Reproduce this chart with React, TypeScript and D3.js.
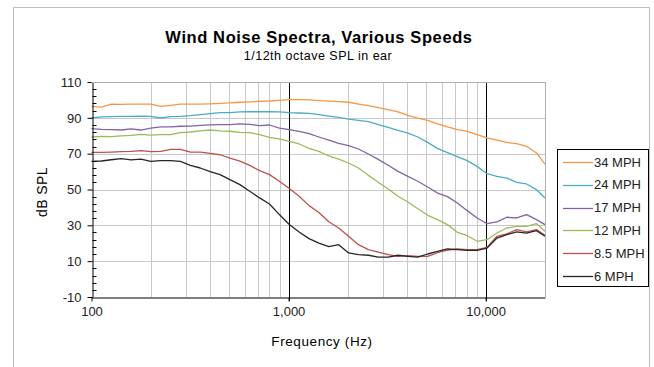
import { useEffect, useRef } from "react";
import * as d3 from "d3";

// 1/6-octave sample points, 100 Hz .. 20 kHz
const freqs = [
  100, 112.2, 126, 141.4, 158.7, 178.2, 200, 224.5, 252, 282.8, 317.5, 356.4,
  400, 449, 504, 566, 635, 713, 800, 898, 1008, 1131, 1270, 1425, 1600, 1796,
  2016, 2263, 2540, 2851, 3200, 3592, 4032, 4525, 5080, 5702, 6400, 7184, 8063,
  9051, 10159, 11404, 12800, 14368, 16127, 18102, 20000,
];

const mph34 = [
  96.4, 96.0, 97.6, 97.5, 97.6, 97.6, 97.6, 96.4, 97.0, 97.6, 97.6, 97.6, 97.8,
  98.1, 98.3, 98.7, 98.9, 99.2, 99.4, 99.8, 100.2, 100.2, 100.0, 99.6, 99.3,
  99.0, 98.7, 97.7, 96.8, 95.7, 94.6, 93.3, 91.4, 89.9, 88.6, 86.6, 84.9, 83.4,
  82.5, 80.6, 78.8, 77.6, 76.3, 75.6, 74.1, 70.4, 64.2,
];
const mph24 = [
  89.9, 90.5, 90.7, 90.8, 90.8, 91.0, 90.8, 89.9, 90.7, 90.8, 91.2, 91.8, 92.4,
  92.9, 92.9, 93.3, 93.4, 93.4, 93.4, 93.3, 92.9, 92.7, 92.5, 91.8, 91.0, 90.3,
  89.3, 88.6, 87.9, 86.2, 84.7, 83.0, 81.5, 79.3, 76.3, 72.8, 70.6, 68.3, 66.1,
  62.9, 58.8, 57.3, 56.4, 54.0, 53.1, 49.9, 45.3,
];
const mph17 = [
  84.0, 83.6, 83.4, 83.2, 83.8, 83.2, 84.3, 84.9, 84.9, 85.3, 85.4, 85.8, 86.1,
  86.2, 86.2, 86.6, 86.4, 85.6, 86.0, 84.3, 83.4, 82.5, 81.2, 79.3, 77.5, 75.8,
  74.5, 72.6, 69.8, 66.8, 63.5, 60.1, 57.3, 54.6, 51.4, 48.0, 46.0, 42.5, 38.2,
  34.1, 30.9, 31.9, 34.5, 34.1, 36.0, 33.2, 30.4,
];
const mph12 = [
  79.3, 79.7, 79.5, 79.9, 80.2, 80.8, 80.4, 80.6, 80.6, 81.7, 82.1, 82.7, 83.2,
  82.7, 82.5, 81.9, 81.7, 80.6, 79.1, 78.2, 76.9, 75.4, 73.0, 71.3, 68.7, 67.0,
  64.8, 62.0, 57.9, 54.0, 50.3, 46.2, 43.0, 39.3, 35.6, 33.2, 30.4, 26.1, 24.2,
  21.1, 22.0, 25.7, 28.5, 29.4, 29.4, 30.9, 26.7,
];
const mph85 = [
  70.7, 70.7, 70.9, 71.1, 71.3, 71.7, 71.1, 71.3, 72.4, 72.4, 70.9, 70.9, 70.2,
  69.4, 67.5, 65.8, 63.5, 60.5, 58.3, 54.6, 50.6, 46.2, 41.0, 37.2, 32.0, 28.5,
  23.9, 19.2, 16.4, 15.1, 13.6, 12.7, 13.1, 12.7, 12.7, 14.7, 16.2, 16.8, 16.4,
  16.4, 17.7, 23.9, 25.2, 27.6, 26.3, 27.6, 24.4,
];
const mph6 = [
  65.7, 65.9, 66.6, 67.2, 66.5, 67.0, 65.7, 66.1, 66.1, 65.7, 63.5, 62.0, 60.0,
  58.3, 55.5, 52.7, 49.0, 45.3, 41.9, 36.0, 30.5, 26.3, 22.6, 20.1, 18.1, 19.2,
  14.6, 13.6, 13.3, 12.3, 12.3, 13.3, 12.7, 12.3, 14.0, 15.5, 16.8, 16.4, 16.0,
  16.0, 17.3, 22.9, 24.8, 26.3, 25.7, 27.0, 23.9,
];

const seriesNames = ["34 MPH", "24 MPH", "17 MPH", "12 MPH", "8.5 MPH", "6 MPH"];
const seriesValues = [mph34, mph24, mph17, mph12, mph85, mph6];
const seriesColors = ["#f79646", "#4bacc6", "#8064a2", "#9bbb59", "#c0504d", "#262626"];

const yTicks = [-10, 10, 30, 50, 70, 90, 110];
const xTicks = [100, 1000, 10000];
const xMinorGrid = [200, 300, 400, 500, 600, 700, 800, 900, 2000, 3000, 4000, 5000, 6000, 7000, 8000, 9000];

const FONT = "'Liberation Sans', Arial, sans-serif";

export default function App() {
  const svgRef = useRef<SVGSVGElement>(null);

  useEffect(() => {
    if (!svgRef.current) return;
    const svg = d3.select(svgRef.current);
    svg.selectAll("*").remove();

    const left = 91.5;
    const right = 545;
    const top = 82;
    const bottom = 297;

    const x = d3.scaleLog().domain([100, 20000]).range([left, right]);
    const y = d3.scaleLinear().domain([-10, 110]).range([bottom, top]);
    const px = (v: number) => Math.round(v) + 0.5;

    // chart frame
    svg.append("rect")
      .attr("x", 13.5).attr("y", 7.5).attr("width", 636).attr("height", 400)
      .attr("fill", "white").attr("stroke", "#bfbfbf");

    // titles
    svg.append("text")
      .attr("x", 319).attr("y", 43)
      .attr("text-anchor", "middle")
      .style("font-family", FONT).style("font-size", "16.5px").style("font-weight", "bold")
      .style("letter-spacing", "0.6px")
      .attr("fill", "#000")
      .text("Wind Noise Spectra, Various Speeds");
    svg.append("text")
      .attr("x", 318).attr("y", 60)
      .attr("text-anchor", "middle")
      .style("font-family", FONT).style("font-size", "12.5px")
      .style("letter-spacing", "0.5px")
      .attr("fill", "#000")
      .text("1/12th octave SPL in ear");

    const g = svg.append("g");

    // horizontal grid
    g.selectAll(".hgrid")
      .data(yTicks.filter((t) => t > -10))
      .enter()
      .append("line")
      .attr("x1", left).attr("x2", right)
      .attr("y1", (d) => px(y(d))).attr("y2", (d) => px(y(d)))
      .attr("stroke", "#c8c8c8");

    // vertical minor grid
    g.selectAll(".vgrid")
      .data([...xMinorGrid, 20000])
      .enter()
      .append("line")
      .attr("x1", (d) => px(x(d))).attr("x2", (d) => px(x(d)))
      .attr("y1", top).attr("y2", bottom)
      .attr("stroke", "#c8c8c8");

    // decade lines
    g.selectAll(".vmajor")
      .data([1000, 10000])
      .enter()
      .append("line")
      .attr("x1", (d) => px(x(d))).attr("x2", (d) => px(x(d)))
      .attr("y1", top).attr("y2", bottom + 4)
      .attr("stroke", "#000");

    // series
    const line = d3.line<number>()
      .x((_, i) => x(freqs[i]))
      .y((d) => y(d));

    seriesValues.forEach((vals, i) => {
      g.append("path")
        .datum(vals)
        .attr("d", line)
        .attr("fill", "none")
        .attr("stroke", seriesColors[i])
        .attr("stroke-width", 1.3)
        .attr("stroke-linejoin", "round");
    });

    // y axis
    const yAxis = g.append("g")
      .attr("transform", `translate(${px(left)},0)`)
      .call(d3.axisLeft(y).tickValues(yTicks).tickSize(5).tickSizeOuter(0).tickFormat((d) => String(d)));
    yAxis.select(".domain").attr("stroke", "#000");
    yAxis.selectAll(".tick line").attr("stroke", "#000");
    yAxis.selectAll(".tick text")
      .attr("x", -11)
      .style("font-family", FONT).style("font-size", "13px").attr("fill", "#222");

    const minor = d3.range(-10, 111, 4).filter((v) => (v + 10) % 20 !== 0);
    g.selectAll(".yminor")
      .data(minor)
      .enter()
      .append("line")
      .attr("x1", px(left)).attr("x2", px(left) + 4)
      .attr("y1", (d) => px(y(d))).attr("y2", (d) => px(y(d)))
      .attr("stroke", "#000");

    // x axis
    const xAxis = g.append("g")
      .attr("transform", `translate(0,${px(bottom)})`)
      .call(d3.axisBottom(x).tickValues(xTicks).tickSize(4).tickSizeOuter(0).tickFormat((d) => d3.format(",")(d as number)));
    xAxis.select(".domain").attr("stroke", "#000");
    xAxis.selectAll(".tick line").attr("stroke", "#000");
    xAxis.selectAll(".tick text")
      .attr("y", 9)
      .style("font-family", FONT).style("font-size", "13px").attr("fill", "#222");

    // top / right plot border
    g.append("line")
      .attr("x1", left).attr("x2", px(right)).attr("y1", px(top)).attr("y2", px(top))
      .attr("stroke", "#b0b0b0");
    g.append("line")
      .attr("x1", px(right)).attr("x2", px(right)).attr("y1", top).attr("y2", bottom)
      .attr("stroke", "#b0b0b0");

    // axis titles
    svg.append("text")
      .attr("transform", `translate(47,192) rotate(-90)`)
      .attr("text-anchor", "middle")
      .style("font-family", FONT).style("font-size", "14px")
      .style("letter-spacing", "0.4px")
      .attr("fill", "#000")
      .text("dB SPL");
    svg.append("text")
      .attr("x", 322).attr("y", 346)
      .attr("text-anchor", "middle")
      .style("font-family", FONT).style("font-size", "13.5px")
      .style("letter-spacing", "0.6px")
      .attr("fill", "#000")
      .text("Frequency (Hz)");

    // legend
    const lg = svg.append("g");
    lg.append("rect")
      .attr("x", 557.5).attr("y", 149.5).attr("width", 91).attr("height", 137)
      .attr("fill", "white").attr("stroke", "#000");
    seriesNames.forEach((name, i) => {
      const cy = 162 + i * 22.8;
      lg.append("line")
        .attr("x1", 563).attr("x2", 593)
        .attr("y1", Math.round(cy) + 0.5).attr("y2", Math.round(cy) + 0.5)
        .attr("stroke", seriesColors[i]).attr("stroke-width", 1.3);
      lg.append("text")
        .attr("x", 594).attr("y", cy + 4.5)
        .style("font-family", FONT).style("font-size", "13px")
        .attr("fill", "#222")
        .text(name);
    });
  }, []);

  return (
    <svg
      ref={svgRef}
      width={654}
      height={367}
      style={{ position: "absolute", left: 0, top: 0, background: "white" }}
    />
  );
}
